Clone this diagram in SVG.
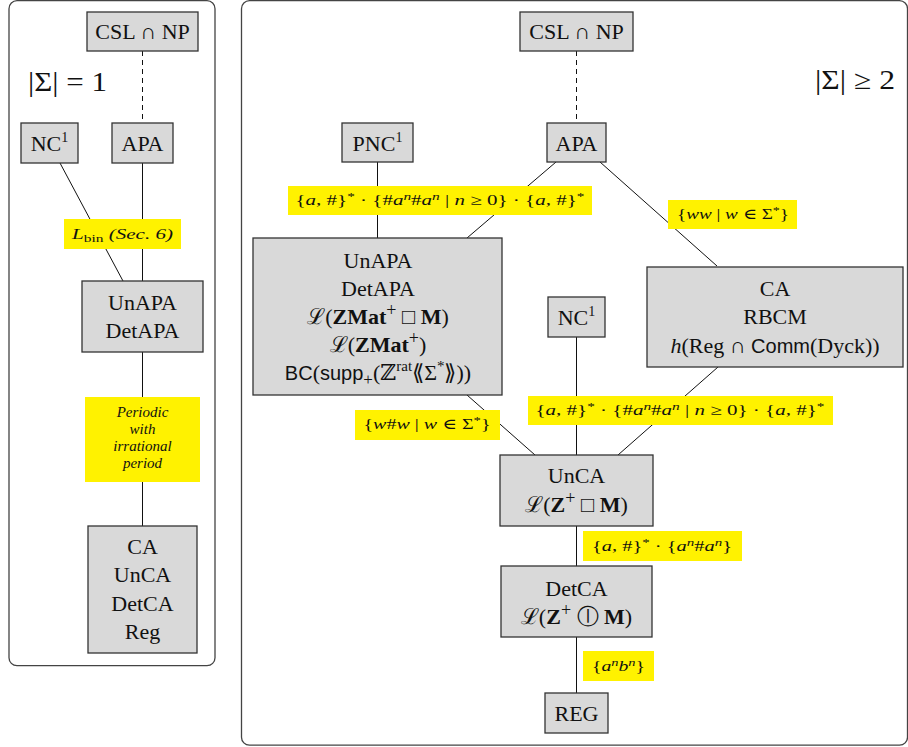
<svg xmlns="http://www.w3.org/2000/svg" width="908" height="747" viewBox="0 0 908 747">
<style>
.panel{fill:none;stroke:#444;stroke-width:1.3}
.node{fill:#d9d9d9;stroke:#333;stroke-width:1.3}
.lbl{fill:#fff200;stroke:none}
.e{stroke:#111;stroke-width:1;fill:none}
.d{stroke-dasharray:5 4}
.t{font-family:"Liberation Serif","DejaVu Serif",serif;font-size:22px;fill:#111;text-anchor:middle}
.s{font-family:"Liberation Sans","DejaVu Sans",sans-serif;font-size:20px}
.b{font-weight:bold}
.m{font-family:"Liberation Serif","DejaVu Serif",serif;font-size:15px;fill:#111;text-anchor:middle;font-style:italic}
.up{font-style:normal}
.big{font-family:"Liberation Serif","DejaVu Serif",serif;font-size:27px;fill:#111}
</style>
<rect class="panel" x="9" y="0.7" width="206" height="665" rx="8"/>
<rect class="panel" x="241.5" y="0.7" width="666" height="744.5" rx="8"/>
<text class="big" x="28" y="91" textLength="79" lengthAdjust="spacingAndGlyphs">|Σ| = 1</text>
<text class="big" x="815" y="89" textLength="80" lengthAdjust="spacingAndGlyphs">|Σ| ≥ 2</text>
<g id="connectors">
<line class="e d" x1="142.5" y1="51" x2="142.5" y2="123"/>
<line class="e" x1="142.5" y1="163" x2="142.5" y2="281"/>
<line class="e" x1="60" y1="163" x2="123" y2="281"/>
<line class="e" x1="142.5" y1="352" x2="142.5" y2="526"/>
<line class="e d" x1="576.5" y1="51" x2="576.5" y2="123"/>
<line class="e" x1="377.5" y1="162" x2="377.5" y2="238"/>
<line class="e" x1="556" y1="162" x2="467" y2="238"/>
<line class="e" x1="600" y1="162" x2="717" y2="266"/>
<line class="e" x1="718" y1="367" x2="618" y2="455"/>
<line class="e" x1="467" y1="395" x2="535" y2="455"/>
<line class="e" x1="576.5" y1="337" x2="576.5" y2="455"/>
<line class="e" x1="576.5" y1="526" x2="576.5" y2="566"/>
<line class="e" x1="576.5" y1="637" x2="576.5" y2="693"/>
<g id="labels">
<rect class="lbl" x="64" y="219" width="117" height="30"/>
<text class="m" x="122.5" y="239" textLength="101" lengthAdjust="spacingAndGlyphs">L<tspan class="up" font-size="11" dy="3">bin</tspan><tspan dy="-3"> (Sec. 6)</tspan></text>
<rect class="lbl" x="85" y="397" width="115" height="85"/>
<text class="m" x="142.5" y="417" font-size="14">Periodic</text>
<text class="m" x="142.5" y="434" font-size="14">with</text>
<text class="m" x="142.5" y="451" font-size="14">irrational</text>
<text class="m" x="142.5" y="468" font-size="14">period</text>
<rect class="lbl" x="288" y="186" width="304" height="29"/>
<text class="m" x="440" y="205" textLength="289" lengthAdjust="spacingAndGlyphs"><tspan class="up">{</tspan>a<tspan class="up">, #}</tspan><tspan class="up" font-size="11" dy="-5">*</tspan><tspan class="up" dy="5"> · {#</tspan>a<tspan font-size="11" dy="-5">n</tspan><tspan class="up" dy="5">#</tspan>a<tspan font-size="11" dy="-5">n</tspan><tspan class="up" dy="5"> | </tspan>n<tspan class="up"> ≥ 0} · {</tspan>a<tspan class="up">, #}</tspan><tspan class="up" font-size="11" dy="-5">*</tspan></text>
<rect class="lbl" x="668" y="200" width="129" height="29"/>
<text class="m" x="733" y="219" textLength="112" lengthAdjust="spacingAndGlyphs"><tspan class="up">{</tspan>ww<tspan class="up"> | </tspan>w<tspan class="up"> ∈ Σ</tspan><tspan class="up" font-size="11" dy="-5">*</tspan><tspan class="up" dy="5">}</tspan></text>
<rect class="lbl" x="528" y="396" width="305" height="29"/>
<text class="m" x="680" y="415" textLength="289" lengthAdjust="spacingAndGlyphs"><tspan class="up">{</tspan>a<tspan class="up">, #}</tspan><tspan class="up" font-size="11" dy="-5">*</tspan><tspan class="up" dy="5"> · {#</tspan>a<tspan font-size="11" dy="-5">n</tspan><tspan class="up" dy="5">#</tspan>a<tspan font-size="11" dy="-5">n</tspan><tspan class="up" dy="5"> | </tspan>n<tspan class="up"> ≥ 0} · {</tspan>a<tspan class="up">, #}</tspan><tspan class="up" font-size="11" dy="-5">*</tspan></text>
<rect class="lbl" x="355" y="410" width="145" height="30"/>
<text class="m" x="427" y="429" textLength="127" lengthAdjust="spacingAndGlyphs"><tspan class="up">{</tspan>w<tspan class="up">#</tspan>w<tspan class="up"> | </tspan>w<tspan class="up"> ∈ Σ</tspan><tspan class="up" font-size="11" dy="-5">*</tspan><tspan class="up" dy="5">}</tspan></text>
<rect class="lbl" x="583" y="531" width="159" height="30"/>
<text class="m" x="662" y="551" textLength="140" lengthAdjust="spacingAndGlyphs"><tspan class="up">{</tspan>a<tspan class="up">, #}</tspan><tspan class="up" font-size="11" dy="-5">*</tspan><tspan class="up" dy="5"> · {</tspan>a<tspan font-size="11" dy="-5">n</tspan><tspan class="up" dy="5">#</tspan>a<tspan font-size="11" dy="-5">n</tspan><tspan class="up" dy="5">}</tspan></text>
<rect class="lbl" x="583" y="651" width="71" height="30"/>
<text class="m" x="618.5" y="671" textLength="53" lengthAdjust="spacingAndGlyphs"><tspan class="up">{</tspan>a<tspan font-size="11" dy="-5">n</tspan><tspan dy="5">b</tspan><tspan font-size="11" dy="-5">n</tspan><tspan class="up" dy="5">}</tspan></text>
</g>
</g>
<g id="L-csl">
<rect class="node" x="87" y="12" width="111" height="39"/>
<text class="t" x="142.5" y="39">CSL ∩ NP</text>
</g>
<g id="L-nc1">
<rect class="node" x="21" y="123" width="57" height="40"/>
<text class="t" x="49.5" y="151">NC<tspan font-size="14" dy="-9">1</tspan></text>
</g>
<g id="L-apa">
<rect class="node" x="112" y="123" width="61" height="40"/>
<text class="t" x="142.5" y="151">APA</text>
</g>
<g id="L-unapa">
<rect class="node" x="82" y="281" width="121" height="71"/>
<text class="t" x="142.5" y="310">UnAPA</text>
<text class="t" x="142.5" y="338">DetAPA</text>
</g>
<g id="L-ca">
<rect class="node" x="88" y="526" width="109" height="127"/>
<text class="t" x="142.5" y="554">CA</text>
<text class="t" x="142.5" y="582">UnCA</text>
<text class="t" x="142.5" y="611">DetCA</text>
<text class="t" x="142.5" y="639">Reg</text>
</g>
<g id="R-csl">
<rect class="node" x="520" y="12" width="113" height="39"/>
<text class="t" x="576.5" y="39">CSL ∩ NP</text>
</g>
<g id="R-pnc1">
<rect class="node" x="342" y="123" width="71" height="39"/>
<text class="t" x="377.5" y="151">PNC<tspan font-size="14" dy="-9">1</tspan></text>
</g>
<g id="R-apa">
<rect class="node" x="547" y="123" width="59" height="39"/>
<text class="t" x="576.5" y="151">APA</text>
</g>
<g id="R-unapa">
<rect class="node" x="253" y="238" width="249" height="157"/>
<text class="t" x="378" y="268">UnAPA</text>
<text class="t" x="378" y="296">DetAPA</text>
<text class="t" x="378" y="324">ℒ(<tspan class="b">ZMat</tspan><tspan font-size="18" dy="-8">+</tspan><tspan dy="8"> □ </tspan><tspan class="b">M</tspan>)</text>
<text class="t" x="378" y="352">ℒ(<tspan class="b">ZMat</tspan><tspan font-size="18" dy="-8">+</tspan><tspan dy="8">)</tspan></text>
<text class="t" x="378" y="380"><tspan class="s">BC</tspan>(<tspan class="s">supp</tspan><tspan font-size="17" dy="5">+</tspan><tspan dy="-5">(ℤ</tspan><tspan font-size="15" dy="-9">rat</tspan><tspan dy="9">⟪Σ</tspan><tspan font-size="15" dy="-9">*</tspan><tspan dy="9">⟫))</tspan></text>
</g>
<g id="R-ca">
<rect class="node" x="647" y="267" width="256" height="100"/>
<text class="t" x="775" y="296">CA</text>
<text class="t" x="775" y="324">RBCM</text>
<text class="t" x="775" y="353"><tspan font-style="italic">h</tspan>(Reg ∩ <tspan class="s">Comm</tspan>(Dyck))</text>
</g>
<g id="R-nc1">
<rect class="node" x="548" y="297" width="57" height="40"/>
<text class="t" x="576.5" y="325">NC<tspan font-size="14" dy="-9">1</tspan></text>
</g>
<g id="R-unca">
<rect class="node" x="500" y="455" width="153" height="71"/>
<text class="t" x="576.5" y="483">UnCA</text>
<text class="t" x="576.5" y="512">ℒ(<tspan class="b">Z</tspan><tspan font-size="18" dy="-8">+</tspan><tspan dy="8"> □ </tspan><tspan class="b">M</tspan>)</text>
</g>
<g id="R-detca">
<rect class="node" x="501" y="566" width="151" height="71"/>
<text class="t" x="576.5" y="596">DetCA</text>
<text class="t" x="576.5" y="624">ℒ(<tspan class="b">Z</tspan><tspan font-size="18" dy="-8">+</tspan><tspan dy="8"> ⓛ </tspan><tspan class="b">M</tspan>)</text>
</g>
<g id="R-reg">
<rect class="node" x="545" y="693" width="63" height="40"/>
<text class="t" x="576.5" y="721">REG</text>
</g>
</svg>
